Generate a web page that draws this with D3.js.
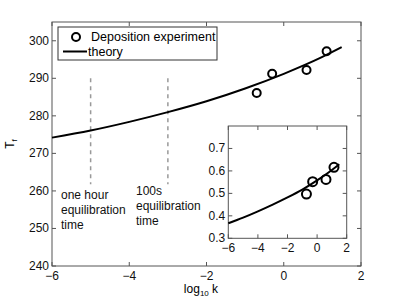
<!DOCTYPE html>
<html>
<head>
<meta charset="utf-8">
<script src="https://cdn.jsdelivr.net/npm/d3@7"></script>
<style>
  body { margin: 0; background: #fff; }
  svg { font-family: "Liberation Sans", Arial, sans-serif; }
</style>
</head>
<body>
<svg id="chart" width="399" height="299"></svg>
<script>
// theory curve, main panel
const theoryK = [-6, -5, -4, -3, -2, -1, 0, 1, 1.5];
const theoryT = [274.2, 276.1, 278.4, 281.0, 283.9, 287.3, 291.2, 295.7, 298.3];
// deposition experiment points
const expK = [-0.7, -0.3, 0.59, 1.11];
const expT = [286.1, 291.2, 292.2, 297.2];
// inset
const insetTheory = [0.367, 0.392, 0.420, 0.450, 0.482, 0.517, 0.558, 0.604, 0.630];
const insetK = [-0.72, -0.3, 0.6, 1.14];
const insetVal = [0.497, 0.552, 0.562, 0.616];
// equilibration markers
const markK = [-5, -3];
const markLabels = [['one hour', 'equilibration', 'time'], ['100s', 'equilibration', 'time']];
const xTicks = [-6, -4, -2, 0, 2];
const yTicks = [240, 250, 260, 270, 280, 290, 300];
const insetXTicks = [-6, -4, -2, 0, 2];
const insetYTicks = [0.3, 0.4, 0.5, 0.6, 0.7];

const svg = d3.select('#chart');
const axisColor = '#555';

const x = d3.scaleLinear().domain([-6, 2]).range([52, 361]);
const y = d3.scaleLinear().domain([240, 305]).range([266, 22]);

function drawBox(g, xs, ys, xt, yt, fmtX, fmtY, lblOffX, lblOffY) {
  const [x0, x1] = xs.range();
  const [y0, y1] = ys.range();
  g.append('rect').attr('x', x0).attr('y', y1).attr('width', x1 - x0).attr('height', y0 - y1)
    .attr('fill', '#fff').attr('stroke', axisColor).attr('stroke-width', 1);
  xt.forEach(function (t) {
    g.append('line').attr('x1', xs(t)).attr('x2', xs(t)).attr('y1', y0).attr('y2', y0 - 4).attr('stroke', axisColor);
    g.append('line').attr('x1', xs(t)).attr('x2', xs(t)).attr('y1', y1).attr('y2', y1 + 4).attr('stroke', axisColor);
    g.append('text').attr('x', xs(t)).attr('y', y0 + lblOffY).attr('text-anchor', 'middle')
      .attr('font-size', 12).attr('fill', '#111').text(fmtX(t));
  });
  yt.forEach(function (t) {
    g.append('line').attr('x1', x0).attr('x2', x0 + 4).attr('y1', ys(t)).attr('y2', ys(t)).attr('stroke', axisColor);
    g.append('line').attr('x1', x1).attr('x2', x1 - 4).attr('y1', ys(t)).attr('y2', ys(t)).attr('stroke', axisColor);
    g.append('text').attr('x', x0 - lblOffX).attr('y', ys(t) + 4).attr('text-anchor', 'end')
      .attr('font-size', 12).attr('fill', '#111').text(fmtY(t));
  });
}

const minus = (t) => (t < 0 ? '\u2212' + Math.abs(t) : String(t));

drawBox(svg, x, y, xTicks, yTicks, minus, (t) => String(t), 3, 14);

// dashed equilibration lines
markK.forEach(function (k) {
  svg.append('line').attr('x1', x(k)).attr('x2', x(k)).attr('y1', y(290)).attr('y2', y(261.8))
    .attr('stroke', '#999').attr('stroke-width', 1.5).attr('stroke-dasharray', '4,4');
});
const labelPos = [[61, 199], [136, 195]];
markLabels.forEach(function (lines, i) {
  lines.forEach(function (s, j) {
    svg.append('text').attr('x', labelPos[i][0]).attr('y', labelPos[i][1] + j * 15)
      .attr('font-size', 12).attr('fill', '#111').text(s);
  });
});

// theory line
const line = d3.line().x((d) => x(d[0])).y((d) => y(d[1])).curve(d3.curveMonotoneX);
svg.append('path').attr('d', line(d3.zip(theoryK, theoryT)))
  .attr('fill', 'none').attr('stroke', '#000').attr('stroke-width', 2);

svg.selectAll('.exp').data(d3.zip(expK, expT)).enter().append('circle')
  .attr('cx', (d) => x(d[0])).attr('cy', (d) => y(d[1])).attr('r', 4)
  .attr('fill', 'none').attr('stroke', '#000').attr('stroke-width', 2);

// legend
const leg = svg.append('g');
leg.append('rect').attr('x', 58).attr('y', 27).attr('width', 159).attr('height', 33)
  .attr('fill', '#fff').attr('stroke', '#333');
leg.append('circle').attr('cx', 76).attr('cy', 37).attr('r', 4)
  .attr('fill', 'none').attr('stroke', '#000').attr('stroke-width', 2);
leg.append('text').attr('x', 91).attr('y', 41).attr('font-size', 12.5).text('Deposition experiment');
leg.append('line').attr('x1', 63).attr('x2', 87).attr('y1', 51.5).attr('y2', 51.5)
  .attr('stroke', '#000').attr('stroke-width', 2);
leg.append('text').attr('x', 88).attr('y', 56).attr('font-size', 12.5).text('theory');

// axis labels
const xl = svg.append('text').attr('x', 201).attr('y', 293).attr('text-anchor', 'middle').attr('font-size', 12);
xl.append('tspan').text('log');
xl.append('tspan').attr('font-size', 8).attr('dy', 3).text('10');
xl.append('tspan').attr('dy', -3).text(' k');
const yl = svg.append('text').attr('transform', 'translate(14,144) rotate(-90)').attr('text-anchor', 'middle').attr('font-size', 12);
yl.append('tspan').text('T');
yl.append('tspan').attr('font-size', 8).attr('dy', 3).text('f');

// inset
const ix = d3.scaleLinear().domain([-6, 2]).range([228.3, 346.7]);
const iy = d3.scaleLinear().domain([0.3, 0.8]).range([238.3, 126]);
const inset = svg.append('g');
drawBox(inset, ix, iy, insetXTicks, insetYTicks, minus, (t) => t.toFixed(1), 3, 14);
const iline = d3.line().x((d) => ix(d[0])).y((d) => iy(d[1])).curve(d3.curveMonotoneX);
inset.append('path').attr('d', iline(d3.zip(theoryK, insetTheory)))
  .attr('fill', 'none').attr('stroke', '#000').attr('stroke-width', 2);
inset.selectAll('.iexp').data(d3.zip(insetK, insetVal)).enter().append('circle')
  .attr('cx', (d) => ix(d[0])).attr('cy', (d) => iy(d[1])).attr('r', 4.5)
  .attr('fill', 'none').attr('stroke', '#000').attr('stroke-width', 2);
</script>
</body>
</html>
